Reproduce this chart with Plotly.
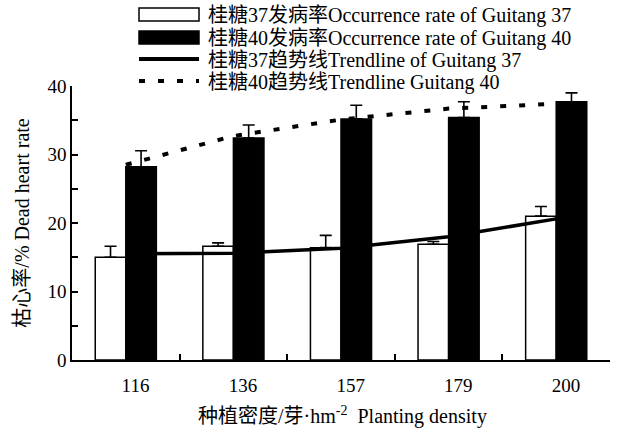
import plotly.graph_objects as go

# Planting density categories (buds per hm^2)
density = ["116", "136", "157", "179", "200"]

# Dead heart occurrence rate (%) and standard errors
gt37_rate = [15.0, 16.6, 16.4, 16.9, 21.0]
gt37_err = [1.6, 0.5, 1.8, 0.4, 1.4]
gt40_rate = [28.2, 32.4, 35.2, 35.4, 37.7]
gt40_err = [2.35, 1.9, 2.0, 2.3, 1.3]

# Fitted trendlines evaluated at each density
gt37_trend = [15.5, 15.6, 16.3, 18.0, 20.6]
gt40_trend = [28.5, 32.7, 35.1, 36.7, 37.4]

legend_names = [
    "桂糖37发病率Occurrence rate of Guitang 37",
    "桂糖40发病率Occurrence rate of Guitang 40",
    "桂糖37趋势线Trendline of Guitang 37",
    "桂糖40趋势线Trendline Guitang 40",
]

FONT = "Liberation Serif, Times New Roman, Noto Sans CJK SC"
W, H = 619, 429
ML, MR, MT, MB = 72, 9, 86, 69
PW, PH = W - ML - MR, H - MT - MB

xpos = list(range(len(density)))
bar_w = 0.284


def px_x(px):
    return (px - ML) / PW


def px_y(py):
    return (H - MB - py) / PH


fig = go.Figure()

fig.add_trace(go.Bar(
    x=xpos, y=gt37_rate, width=bar_w, offset=-bar_w,
    marker=dict(color="white", line=dict(color="black", width=1.5)),
    error_y=dict(type="data", array=gt37_err, arrayminus=[0] * len(gt37_err),
                 symmetric=False, color="black", thickness=1.6, width=6),
    name=legend_names[0], showlegend=False, hoverinfo="y",
))
fig.add_trace(go.Bar(
    x=xpos, y=gt40_rate, width=bar_w, offset=0,
    marker=dict(color="black", line=dict(color="black", width=1.5)),
    error_y=dict(type="data", array=gt40_err, arrayminus=[0] * len(gt40_err),
                 symmetric=False, color="black", thickness=1.6, width=6),
    name=legend_names[1], showlegend=False, hoverinfo="y",
))
fig.add_trace(go.Scatter(
    x=xpos, y=gt37_trend, mode="lines",
    line=dict(color="black", width=3.5),
    name=legend_names[2], showlegend=False,
))
fig.add_trace(go.Scatter(
    x=xpos, y=gt40_trend, mode="lines",
    line=dict(color="black", width=4, dash="6px,13px"),
    name=legend_names[3], showlegend=False,
))
# Carrier trace so the density label axis is rendered
fig.add_trace(go.Scatter(
    x=xpos, y=gt37_rate, xaxis="x2", mode="markers",
    marker=dict(opacity=0), hoverinfo="skip", showlegend=False,
))

# Hand-drawn legend above the plot area
sym_x0, sym_x1 = px_x(139), px_x(199)
shapes = [
    dict(type="rect", xref="paper", yref="paper", x0=sym_x0, x1=sym_x1,
         y0=px_y(21), y1=px_y(8), line=dict(color="black", width=1.5),
         fillcolor="white"),
    dict(type="rect", xref="paper", yref="paper", x0=sym_x0, x1=sym_x1,
         y0=px_y(44), y1=px_y(31), line=dict(color="black", width=1.5),
         fillcolor="black"),
    dict(type="line", xref="paper", yref="paper", x0=sym_x0, x1=sym_x1,
         y0=px_y(59), y1=px_y(59), line=dict(color="black", width=4)),
    dict(type="line", xref="paper", yref="paper", x0=sym_x0, x1=sym_x1,
         y0=px_y(81), y1=px_y(81),
         line=dict(color="black", width=4, dash="6px,13px")),
]
legend_rows = [15, 38, 60, 82]
annotations = [
    dict(text=name, xref="paper", yref="paper", x=px_x(206), y=px_y(row),
         xanchor="left", yanchor="middle", showarrow=False,
         font=dict(family=FONT, size=20, color="black"))
    for name, row in zip(legend_names, legend_rows)
]
annotations.append(dict(
    text="种植密度/芽·hm<sup>-2</sup>  Planting density",
    xref="paper", yref="paper", x=px_x(342), y=px_y(415),
    xanchor="center", yanchor="middle", showarrow=False,
    font=dict(family=FONT, size=20, color="black"),
))

fig.update_layout(
    width=W, height=H,
    margin=dict(l=ML, r=MR, t=MT, b=MB, pad=0),
    paper_bgcolor="white", plot_bgcolor="white",
    barmode="overlay",
    showlegend=False,
    font=dict(family=FONT, size=18, color="black"),
    shapes=shapes,
    annotations=annotations,
    xaxis=dict(
        range=[-0.5, len(density) - 0.5],
        tickmode="array",
        tickvals=[i + 0.5 for i in xpos],
        showticklabels=False,
        ticks="inside", ticklen=6, tickwidth=1.5, tickcolor="black",
        showline=True, linecolor="black", linewidth=1.5,
        showgrid=False, zeroline=False,
    ),
    xaxis2=dict(
        overlaying="x", anchor="y", side="bottom",
        range=[-0.5, len(density) - 0.5],
        tickmode="array",
        tickvals=[i + 0.09 for i in xpos],
        ticktext=density,
        ticks="", showline=False, showgrid=False, zeroline=False,
        ticklabelstandoff=12,
        tickfont=dict(family=FONT, size=19, color="black"),
    ),
    yaxis=dict(
        range=[0, 40],
        tickmode="array", tickvals=[0, 10, 20, 30, 40],
        ticks="inside", ticklen=6, tickwidth=1.5, tickcolor="black",
        minor=dict(tickmode="array", tickvals=[5, 15, 25, 35],
                   ticks="inside", ticklen=6, tickwidth=1.5, tickcolor="black",
                   showgrid=False),
        showline=True, linecolor="black", linewidth=1.5,
        showgrid=False, zeroline=False,
        tickfont=dict(family=FONT, size=19, color="black"),
        title=dict(text="枯心率/% Dead heart rate", standoff=12,
                   font=dict(family=FONT, size=20, color="black")),
    ),
)

fig.write_html("out.html")
